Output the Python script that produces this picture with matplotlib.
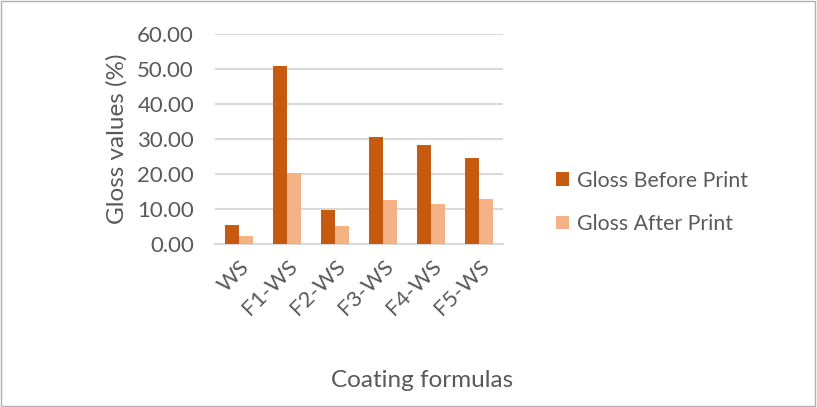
import matplotlib.pyplot as plt
import numpy as np
from matplotlib.patches import Rectangle

plt.rcParams['font.family'] = ['Lato', 'DejaVu Sans']

formulas = ['WS', 'F1-WS', 'F2-WS', 'F3-WS', 'F4-WS', 'F5-WS']
gloss_before = [5.4, 50.9, 9.7, 30.5, 28.4, 24.7]
gloss_after = [2.3, 20.3, 5.2, 12.6, 11.3, 12.9]

c_before = '#c55a11'
c_after = '#f4b183'
txt = '#595959'

fig = plt.figure(figsize=(8.17, 4.07), dpi=100)
ax = fig.add_axes([0.263, 0.4005, 0.353, 0.516])

x = np.arange(len(formulas))
w = 0.29
ax.bar(x - w / 2, gloss_before, w, color=c_before, label='Gloss Before Print', zorder=3)
ax.bar(x + w / 2, gloss_after, w, color=c_after, label='Gloss After Print', zorder=3)

ax.set_ylim(0, 60)
ax.set_xlim(-0.5, len(formulas) - 0.5)
ax.set_yticks(np.arange(0, 61, 10))
ax.set_yticklabels([f'{v:.2f}' for v in np.arange(0, 61, 10)])
ax.set_xticks(x)
ax.set_xticklabels(formulas, rotation=45, ha='right', va='top', rotation_mode='anchor')
ax.tick_params(length=0, labelsize=16, labelcolor=txt)
ax.tick_params(axis='y', pad=15)
ax.tick_params(axis='x', pad=9)
ax.grid(axis='y', color='#d9d9d9', linewidth=1.5, zorder=0)
for s in ['top', 'right', 'left']:
    ax.spines[s].set_visible(False)
ax.spines['bottom'].set_color('#d9d9d9')
ax.spines['bottom'].set_linewidth(1.5)

ax.set_ylabel('Gloss values (%)', fontsize=17.5, color=txt, labelpad=7)
fig.text(0.517, 0.066, 'Coating formulas', fontsize=17.5, color=txt, ha='center', va='center')

fig.legend(loc='center left', bbox_to_anchor=(0.657, 0.503), frameon=False,
           fontsize=15.3, labelcolor=txt, handlelength=0.6, handleheight=0.6,
           handletextpad=0.4, labelspacing=1.1)

fig.patches.append(Rectangle((0.001, 0.002), 0.997, 0.995, transform=fig.transFigure,
                             fill=False, edgecolor='#b0b0b0', linewidth=1))

fig.savefig('out.png', dpi=100)
